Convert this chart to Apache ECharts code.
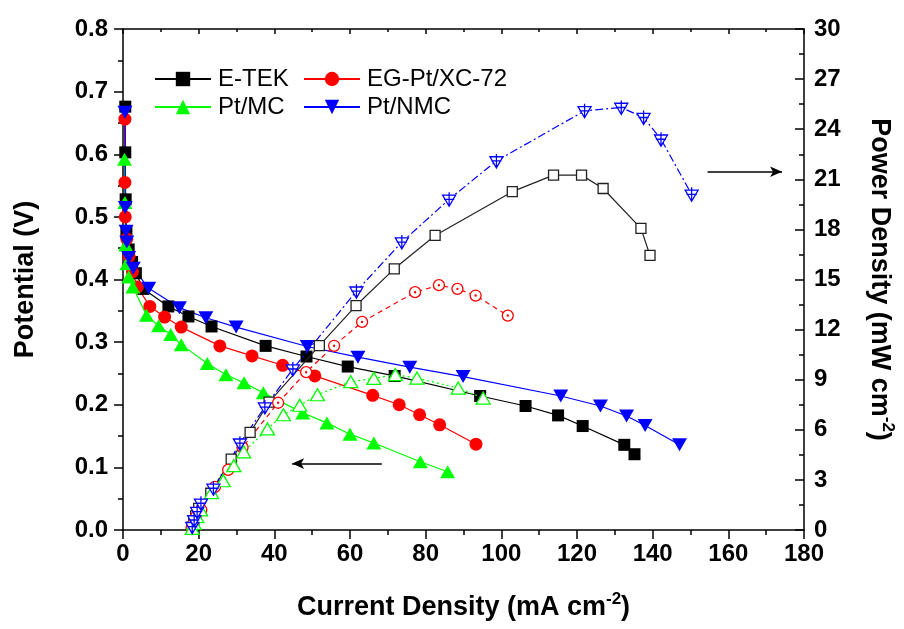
<!DOCTYPE html>
<html>
<head>
<meta charset="utf-8">
<script src="https://cdn.jsdelivr.net/npm/echarts@6/dist/echarts.min.js"></script>
<style>
  html, body { margin: 0; padding: 0; background: #fff; }
  #chart { width: 904px; height: 629px; }
</style>
</head>
<body>
<div id="chart"></div>
<script>
// Polarization curves: [current density (mA cm-2), potential (V)]
const etekPotential = [[0.6,0.676],[0.6,0.603],[0.7,0.528],[0.9,0.475],[1.5,0.448],[2.4,0.428],[3.4,0.410],[5.4,0.385],[12.0,0.357],[17.3,0.341],[23.4,0.325],[37.7,0.294],[48.5,0.277],[59.4,0.261],[71.8,0.246],[94.4,0.214],[106.4,0.198],[115.0,0.183],[121.5,0.166],[132.5,0.136],[135.2,0.121]];
const egPotential = [[0.5,0.656],[0.5,0.555],[0.6,0.500],[1.0,0.465],[1.6,0.437],[2.5,0.412],[3.8,0.388],[7.1,0.357],[11.0,0.340],[15.4,0.324],[25.6,0.294],[34.1,0.278],[42.2,0.263],[50.7,0.246],[66.0,0.215],[73.0,0.200],[78.4,0.184],[83.7,0.168],[93.3,0.137]];
const mcPotential = [[0.4,0.592],[0.5,0.523],[0.7,0.455],[1.0,0.425],[1.5,0.404],[2.6,0.388],[6.2,0.343],[9.4,0.326],[12.6,0.312],[15.4,0.296],[22.3,0.266],[27.2,0.248],[32.0,0.235],[37.1,0.219],[47.5,0.187],[53.9,0.171],[60.0,0.153],[66.3,0.139],[78.6,0.109],[85.8,0.093]];
const nmcPotential = [[0.5,0.667],[0.6,0.515],[0.8,0.477],[1.0,0.460],[1.5,0.435],[2.7,0.418],[6.8,0.386],[14.9,0.355],[21.9,0.339],[29.9,0.324],[48.7,0.293],[62.1,0.276],[75.8,0.260],[89.9,0.245],[115.7,0.214],[126.2,0.198],[133.1,0.182],[138.0,0.167],[147.1,0.136]];

// Power density curves: [current density (mA cm-2), power density (mW cm-2)]
const etekPower = [[18.2,0.15],[18.7,0.45],[19.2,0.85],[20.0,1.30],[23.2,2.20],[28.6,4.24],[33.6,5.84],[38.6,7.66],[51.9,11.04],[61.6,13.44],[71.7,15.64],[82.5,17.64],[102.9,20.26],[113.8,21.25],[121.2,21.25],[126.9,20.45],[136.9,18.06],[139.3,16.44]];
const egPower = [[18.1,0.10],[18.6,0.40],[19.3,0.80],[20.7,1.20],[24.3,2.58],[27.8,3.60],[31.6,4.95],[41.0,7.62],[48.4,9.45],[55.8,11.03],[63.2,12.46],[77.2,14.24],[83.5,14.66],[88.4,14.44],[93.2,14.04],[101.7,12.84]];
const mcPower = [[18.3,0.10],[18.8,0.40],[19.5,0.80],[20.5,1.20],[23.4,2.24],[26.5,2.95],[29.3,3.85],[31.9,4.68],[38.2,6.05],[42.4,6.90],[46.7,7.47],[51.4,8.10],[60.2,8.88],[66.3,9.08],[72.0,9.30],[77.7,9.10],[88.6,8.50],[95.2,7.90]];
const nmcPower = [[18.3,0.20],[18.8,0.60],[19.6,1.10],[20.6,1.60],[23.9,2.50],[30.9,5.20],[37.5,7.36],[44.9,9.64],[61.7,14.30],[73.7,17.24],[86.2,19.80],[98.7,22.10],[122.0,25.10],[131.7,25.30],[137.6,24.70],[142.2,23.40],[150.3,20.10]];

// Guide arrows pointing each curve family to its axis
const leftArrow = { y: 0.106, from: 68.4, to: 44.7 };
const rightArrow = { y: 21.45, from: 154.5, to: 174.2 };

const FONT = 'Arial, "Liberation Sans", Helvetica, sans-serif';
const BLACK = '#000000', RED = '#ff0000', GREEN = '#00ff00', BLUE = '#0000ff';

const circleDot = 'path://M0,10 A10,10 0 1,0 20,10 A10,10 0 1,0 0,10 Z M9,10 A1,1 0 1,0 11,10 A1,1 0 1,0 9,10 Z';
const triCross = 'path://M0,3 L14,3 L7,15 Z M7,0 L7,15 M1.5,7.5 L12.5,7.5';

const tickLabel = { fontSize: 24, fontWeight: 'bold', color: BLACK, fontFamily: FONT };
const axisLine = { show: true, onZero: false, lineStyle: { color: BLACK, width: 1.5 } };
const nameRich = {
  a: { fontSize: 27, fontWeight: 'bold', color: BLACK, fontFamily: FONT, lineHeight: 34 },
  s: { fontSize: 17, fontWeight: 'bold', color: BLACK, fontFamily: FONT, lineHeight: 20, verticalAlign: 'top' }
};

function potentialSeries(name, data, color, symbol, size, rotate) {
  return {
    name, type: 'line', data, xAxisIndex: 0, yAxisIndex: 0,
    symbol, symbolSize: size, symbolRotate: rotate || 0, showAllSymbol: true,
    lineStyle: { color, width: 1.2 },
    itemStyle: { color, borderWidth: 0 },
    z: 3
  };
}
function powerSeries(name, data, color, symbol, size, dash) {
  return {
    name, type: 'line', data, xAxisIndex: 0, yAxisIndex: 1,
    symbol, symbolSize: size, showAllSymbol: true,
    lineStyle: { color, width: 1.2, type: dash },
    itemStyle: { color: '#ffffff', borderColor: color, borderWidth: 1.3 },
    z: 4
  };
}

const etekP = powerSeries('E-TEK power', etekPower, '#222222', 'rect', 10, 'solid');
const egP = powerSeries('EG-Pt/XC-72 power', egPower, RED, circleDot, 11, [5, 4]);
const mcP = powerSeries('Pt/MC power', mcPower, GREEN, 'triangle', [14, 12], [2, 3]);
const nmcP = powerSeries('Pt/NMC power', nmcPower, BLUE, triCross, [13, 14], [8, 3, 2, 3]);
nmcP.markLine = {
  silent: true, symbol: ['none', 'arrow'], symbolSize: [8, 12],
  lineStyle: { color: BLACK, width: 1.5, type: 'solid' }, label: { show: false },
  data: [[{ coord: [rightArrow.from, rightArrow.y] }, { coord: [rightArrow.to, rightArrow.y] }]]
};

const etekV = potentialSeries('E-TEK', etekPotential, BLACK, 'rect', 12);
etekV.markLine = {
  silent: true, symbol: ['none', 'arrow'], symbolSize: [8, 12],
  lineStyle: { color: BLACK, width: 1.5, type: 'solid' }, label: { show: false },
  data: [[{ coord: [leftArrow.from, leftArrow.y] }, { coord: [leftArrow.to, leftArrow.y] }]]
};

const legendBase = {
  orient: 'vertical', top: 62, itemWidth: 56, itemHeight: 18, itemGap: 4,
  selectedMode: false,
  textStyle: { fontSize: 24, color: BLACK, fontFamily: FONT, lineHeight: 24, padding: [0, 0, 0, 2] }
};

const chart = echarts.init(document.getElementById('chart'), null, { renderer: 'canvas' });
chart.setOption({
  animation: false,
  backgroundColor: '#ffffff',
  textStyle: { fontFamily: FONT },
  grid: { left: 123, right: 97, top: 29, bottom: 99, containLabel: false },
  legend: [
    Object.assign({}, legendBase, { left: 149, data: ['E-TEK', 'Pt/MC'] }),
    Object.assign({}, legendBase, { left: 298, data: ['EG-Pt/XC-72', 'Pt/NMC'] })
  ],
  xAxis: [
    {
      type: 'value', min: 0, max: 180, interval: 20, position: 'bottom',
      axisLine, splitLine: { show: false },
      axisTick: { show: true, inside: false, length: 9, lineStyle: { color: BLACK, width: 1.5 } },
      minorTick: { show: true, splitNumber: 2, length: 5, lineStyle: { color: BLACK, width: 1.5 } },
      axisLabel: Object.assign({ margin: 12 }, tickLabel),
      name: '{a|Current Density (mA cm}{s|-2}{a|)}', nameLocation: 'middle', nameGap: 61,
      nameTextStyle: { rich: nameRich }
    },
    {
      type: 'value', min: 0, max: 180, interval: 20, position: 'top',
      axisLine, splitLine: { show: false },
      axisTick: { show: true, inside: true, length: 5, lineStyle: { color: BLACK, width: 1.5 } },
      minorTick: { show: true, splitNumber: 2, length: 3, lineStyle: { color: BLACK, width: 1.5 } },
      axisLabel: { show: false }
    }
  ],
  yAxis: [
    {
      type: 'value', min: 0, max: 0.8, interval: 0.1, position: 'left',
      axisLine, splitLine: { show: false },
      axisTick: { show: true, inside: false, length: 9, lineStyle: { color: BLACK, width: 1.5 } },
      minorTick: { show: true, splitNumber: 2, length: 5, lineStyle: { color: BLACK, width: 1.5 } },
      axisLabel: Object.assign({ margin: 15, formatter: v => v.toFixed(1) }, tickLabel),
      name: '{a|Potential (V)}', nameLocation: 'middle', nameGap: 80,
      nameTextStyle: { rich: nameRich }
    },
    {
      type: 'value', min: 0, max: 30, interval: 3, position: 'right',
      axisLine, splitLine: { show: false },
      axisTick: { show: true, inside: true, length: 9, lineStyle: { color: BLACK, width: 1.5 } },
      minorTick: { show: true, splitNumber: 2, length: 5, lineStyle: { color: BLACK, width: 1.5 } },
      axisLabel: Object.assign({ margin: 10 }, tickLabel),
      name: '{a|Power Density (mW cm}{s|-2}{a|)}', nameLocation: 'middle', nameGap: 58, nameRotate: -90,
      nameTextStyle: { rich: nameRich }
    }
  ],
  series: [
    etekV,
    potentialSeries('EG-Pt/XC-72', egPotential, RED, 'circle', 13),
    potentialSeries('Pt/MC', mcPotential, GREEN, 'triangle', [15, 13]),
    potentialSeries('Pt/NMC', nmcPotential, BLUE, 'triangle', [15, 13], 180),
    etekP, egP, mcP, nmcP
  ]
});
</script>
</body>
</html>
